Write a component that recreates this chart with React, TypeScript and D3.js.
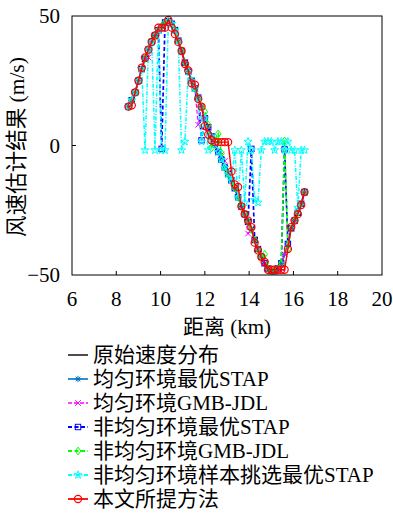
import React from 'react';
import * as d3 from 'd3';

const distances = [8.55, 8.7, 8.85, 9.0, 9.15, 9.3, 9.45, 9.6, 9.75, 9.9, 10.05, 10.2, 10.35, 10.5, 10.65, 10.8, 10.95, 11.1, 11.25, 11.4, 11.55, 11.7, 11.85, 12.0, 12.15, 12.3, 12.45, 12.6, 12.75, 12.9, 13.05, 13.2, 13.35, 13.5, 13.65, 13.8, 13.95, 14.1, 14.25, 14.4, 14.55, 14.7, 14.85, 15.0, 15.15, 15.3, 15.45, 15.6, 15.75, 15.9, 16.05, 16.2, 16.35, 16.5];

const original = [15, 17.5, 20.5, 25, 29.5, 33.5, 37, 40, 42.5, 44.5, 46, 47.5, 48, 47, 44.5, 40.5, 36.5, 32, 28.5, 25, 22, 18.5, 15, 10.5, 7, 3.5, 0.5, -2.5, -5.5, -8.5, -11, -13.5, -16.5, -20, -23.5, -26.5, -29.5, -32.5, -36.5, -40, -43, -45.5, -47.5, -48.5, -48.5, -47.5, -45.5, -42, -38, -32, -29, -26, -22.5, -18];

const uniformOptSTAP = [15, 17.5, 20.5, 25, 29.5, 33.5, 37, 40, 42.5, 44.5, 46, 47.5, 48, 47, 45, 40.5, 36.5, 32, 28.5, 25, 22, 18.5, 15, 10.5, 7, 3.5, 0.5, -2.5, -5.5, -8.5, -11, -13.5, -16.5, -20, -23.5, -26.5, -29.5, -32.5, -36, -40, -43, -45.5, -47.5, -48.5, -48.5, -47.5, -45.5, -42, -38, -32, -29, -25, -22.5, -18];

const uniformGMB = [15, 17.5, 20.5, 25, 29.5, 33.5, 34, 40, 42.5, 44.5, 46, 47.5, 48, 47, 44.5, 40.5, 36.5, 32, 28.5, 25, 22, 8, 15, 10.5, 7, 3.5, 0.5, -2.5, -3.5, -6, -10.5, -13.5, -16.5, -20, -23.5, -26.5, -34, -32.5, -36.5, -40, -43, -45.5, -47.5, -48.5, -48.5, -47.5, -47.5, -42, -38, -32, -29, -26, -22.5, -18];

const nonUniformOptSTAP = [15, 17.5, 20.5, 25, 29.5, 33.5, 37, 40, 42.5, 44.5, -1.3, 47.5, 48, 47, 44.5, 40.5, 36.5, 32, 28.5, 25, 22, 18.5, 2, 10.5, 7, 3.5, 0.5, -2.5, -5.5, -8.5, -11, -13.5, -16.5, -20, -23.5, -26.5, -29.5, -1.3, -36.5, -40, -43, -45.5, -47.5, -48.5, -48.5, -47.5, -45.5, -1.5, -38, -32, -29, -26, -22.5, -18];

const nonUniformGMB = [15, 17.5, 20.5, 25, 29.5, 33.5, 37, 40, 42.5, 44.5, 46, 47.5, 48, 47, 44.5, 40.5, 36.5, 32, 28.5, 25, 22, 18.5, 15, 13, 8, -1, 2, 4.5, -3, -8.5, -11, -13.5, -16.5, -20, -23.5, -26.5, -29.5, -32.5, -36.5, -40, -43, -42, -47.5, -48.5, -48.5, -47.5, -45.5, 1.8, -40, -32, -29, -26, -22.5, -18];

const nonUniformSelSTAP = [15, 17.5, 20.5, 25, 29.5, -1.8, 37, 40, -1.8, 44.5, -1.8, -1.8, 48, 47, 44.5, 40.5, -1.8, 1.5, 28.5, 25, 22, 18.5, 1.5, 10.5, -1.8, 3.5, 0.5, -2.5, -5.5, -8.5, -11, -13.5, -1.8, -20, -1.8, -22, 1.5, -1.8, -21, -22, -1.8, 1.5, 1.5, 1.5, -1.8, 1.5, 1.5, -1.8, 1.5, -1.8, -1.8, -24, -1.8, -1.8];

const proposed = [15, 15.5, 20.5, 25, 30, 34, 37, 40, 42.5, 45.5, 45.5, 45.5, 48.5, 45.5, 43, 40, 36.5, 31.5, 29, 24, 23.5, 18, 15, 7.5, 4.2, 2, 1.3, 1.3, 1.3, 1.3, 1.3, -10, -15, -16, -23.5, -26.5, -29, -31.5, -37.5, -40.5, -43, -45, -48, -48, -48, -48, -48, -48, -40, -31.5, -29, -26.5, -23, -18];

const xTicks = [6, 8, 10, 12, 14, 16, 18, 20];
const yTicks = [-50, 0, 50];
const seriesLabels = ['原始速度分布', '均匀环境最优STAP', '均匀环境GMB-JDL', '非均匀环境最优STAP', '非均匀环境GMB-JDL', '非均匀环境样本挑选最优STAP', '本文所提方法'];
const xLabel = '距离 (km)';
const yLabel = '风速估计结果 (m/s)';

type MarkerKind = 'none' | 'asterisk' | 'x' | 'square' | 'diamond' | 'star' | 'circle';

const FONT = "'Liberation Serif', 'Noto Sans CJK SC', serif";

function Marker({ kind, cx, cy, color }: { kind: MarkerKind; cx: number; cy: number; color: string }) {
  const sw = 1;
  if (kind === 'circle') return <circle cx={cx} cy={cy} r={3.6} fill="none" stroke={color} strokeWidth={1.2} />;
  if (kind === 'square') return <rect x={cx - 2.7} y={cy - 2.7} width={5.4} height={5.4} fill="none" stroke={color} strokeWidth={sw} />;
  if (kind === 'diamond') {
    const r = 3.8;
    return <path d={`M${cx},${cy - r}L${cx + r * 0.75},${cy}L${cx},${cy + r}L${cx - r * 0.75},${cy}Z`} fill="none" stroke={color} strokeWidth={sw} />;
  }
  if (kind === 'x') {
    const r = 2.8;
    return <path d={`M${cx - r},${cy - r}L${cx + r},${cy + r}M${cx - r},${cy + r}L${cx + r},${cy - r}`} stroke={color} strokeWidth={sw} />;
  }
  if (kind === 'asterisk') {
    const r = 3.2, d = 2.3;
    return <path d={`M${cx - r},${cy}L${cx + r},${cy}M${cx},${cy - r}L${cx},${cy + r}M${cx - d},${cy - d}L${cx + d},${cy + d}M${cx - d},${cy + d}L${cx + d},${cy - d}`} stroke={color} strokeWidth={sw} />;
  }
  if (kind === 'star') {
    const R = 4.2, ri = R * 0.4;
    const pts: string[] = [];
    for (let i = 0; i < 10; i++) {
      const a = -Math.PI / 2 + (i * Math.PI) / 5;
      const rr = i % 2 === 0 ? R : ri;
      pts.push(`${cx + rr * Math.cos(a)},${cy + rr * Math.sin(a)}`);
    }
    return <path d={`M${pts.join('L')}Z`} fill="none" stroke={color} strokeWidth={sw} />;
  }
  return null;
}

const seriesStyle = [
  { data: original, color: '#000000', dash: '', width: 1, marker: 'none' as MarkerKind },
  { data: uniformOptSTAP, color: '#0072BD', dash: '', width: 1.2, marker: 'asterisk' as MarkerKind },
  { data: uniformGMB, color: '#FF00FF', dash: '4,2', width: 1.2, marker: 'x' as MarkerKind },
  { data: nonUniformOptSTAP, color: '#0000FF', dash: '4,2.5', width: 1.7, marker: 'square' as MarkerKind },
  { data: nonUniformGMB, color: '#00FF00', dash: '4,2.5', width: 1.5, marker: 'diamond' as MarkerKind },
  { data: nonUniformSelSTAP, color: '#00FFFF', dash: '4,1.5,1,1.5', width: 1.5, marker: 'star' as MarkerKind },
  { data: proposed, color: '#FF0000', dash: '', width: 1.4, marker: 'circle' as MarkerKind },
];

export default function App() {
  const left = 72, right = 382, top = 16, bottom = 275;
  const x = d3.scaleLinear().domain([6, 20]).range([left, right]);
  const y = d3.scaleLinear().domain([-50, 50]).range([bottom, top]);
  const lineGen = d3.line<number>().x((_, i) => x(distances[i])).y((v) => y(v));

  const legendX0 = 68, legendX1 = 88, legendTextX = 93, legendY0 = 355, legendDy = 24;

  return (
    <svg width={393} height={513} style={{ position: 'absolute', left: 0, top: 0, background: '#fff' }} fontFamily={FONT}>
      <rect x={0} y={0} width={393} height={513} fill="#fff" />
      {seriesStyle.map((s, si) => (
        <g key={si}>
          <path d={lineGen(s.data) || ''} fill="none" stroke={s.color} strokeWidth={s.width} strokeDasharray={s.dash || undefined} />
          {s.marker !== 'none' && s.data.map((v, i) => <Marker key={i} kind={s.marker} cx={x(distances[i])} cy={y(v)} color={s.color} />)}
        </g>
      ))}
      <rect x={left} y={top} width={right - left} height={bottom - top} fill="none" stroke="#000" strokeWidth={1} />
      {xTicks.map((t) => (
        <g key={t}>
          {t > 6 && t < 20 && <line x1={x(t)} x2={x(t)} y1={bottom} y2={bottom - 4} stroke="#000" strokeWidth={1} />}
          <text x={x(t)} y={306} textAnchor="middle" fontSize={21}>{t}</text>
        </g>
      ))}
      {yTicks.map((t) => (
        <g key={t}>
          {t !== -50 && t !== 50 && <line x1={left} x2={left + 4} y1={y(t)} y2={y(t)} stroke="#000" strokeWidth={1} />}
          <text x={left - 12} y={y(t) + 7} textAnchor="end" fontSize={21}>{t < 0 ? `\u2212${Math.abs(t)}` : t}</text>
        </g>
      ))}
      <text x={227} y={334} textAnchor="middle" fontSize={21}>{xLabel}</text>
      <text transform={`translate(24,147) rotate(-90)`} textAnchor="middle" fontSize={21.5}>{yLabel}</text>
      {seriesLabels.map((lab, i) => {
        const s = seriesStyle[i];
        const cy = legendY0 + i * legendDy;
        return (
          <g key={lab}>
            <line x1={legendX0} x2={legendX1} y1={cy} y2={cy} stroke={s.color} strokeWidth={s.width + 0.4} strokeDasharray={s.dash || undefined} />
            {s.marker !== 'none' && <Marker kind={s.marker} cx={(legendX0 + legendX1) / 2} cy={cy} color={s.color} />}
            <text x={legendTextX} y={cy + 7} fontSize={21}>{lab}</text>
          </g>
        );
      })}
    </svg>
  );
}
